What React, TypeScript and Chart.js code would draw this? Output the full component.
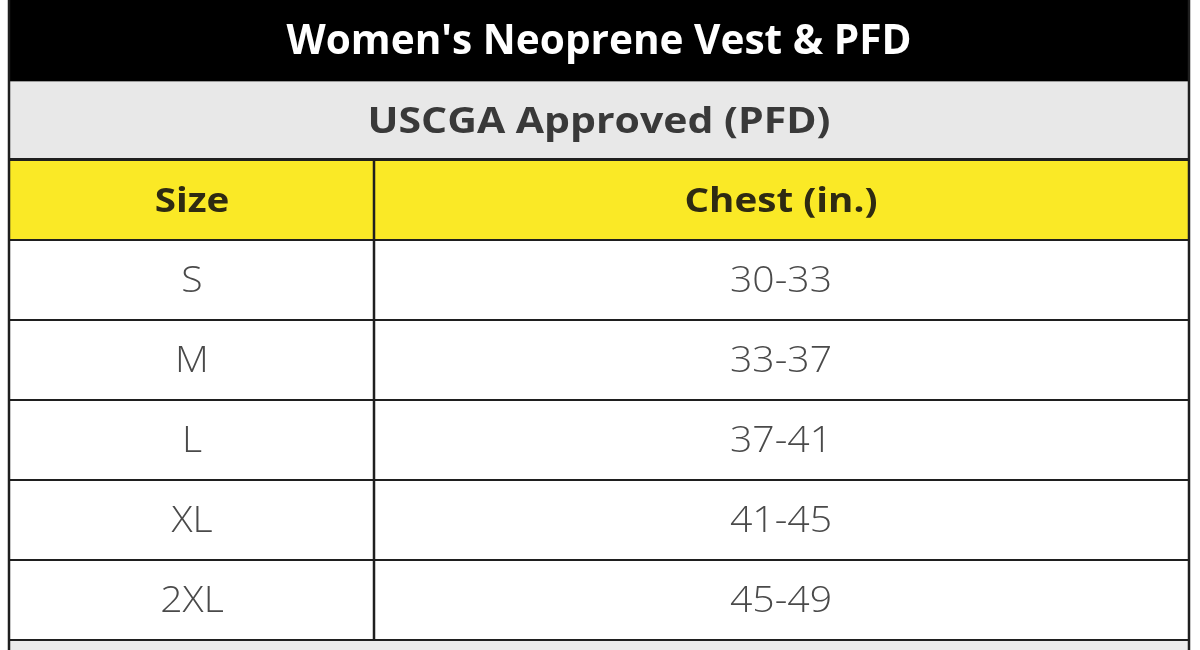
import React, { useEffect, useRef } from "react";
import { Chart, registerables } from "chart.js";

Chart.register(...registerables);

// ---- data ----
const title = "Women's Neoprene Vest & PFD";
const subtitle = "USCGA Approved (PFD)";
const columns = ["Size", "Chest (in.)"];
const sizes = ["S", "M", "L", "XL", "2XL"];
const chestRanges = ["30-33", "33-37", "37-41", "41-45", "45-49"];

// ---- layout (not data) ----
const W = 1200;
const H = 650;
const ROW_PX = 80;
const TABLE_LEFT = 9;
const TABLE_RIGHT = 1189;
const COL_DIVIDER = 374;
const COL_CENTERS = [192, 781];

const FONT = "'Open Sans', 'Noto Sans', sans-serif";

type Style = { font: string; color: string; sample: string; width: number; cap: number };
const STYLES: Record<string, Style> = {
  title: { font: `700 42px ${FONT}`, color: "#ffffff", sample: title, width: 625, cap: 30 },
  subtitle: { font: `700 36px ${FONT}`, color: "#393939", sample: subtitle, width: 463, cap: 26 },
  header: { font: `700 34px ${FONT}`, color: "#2e2a12", sample: "Chest (in.)", width: 193, cap: 24 },
  body: { font: `300 37px ${FONT}`, color: "#4a4a4a", sample: "30-33", width: 102, cap: 26 },
};

function drawText(ctx: CanvasRenderingContext2D, text: string, cx: number, cy: number, st: Style) {
  ctx.save();
  ctx.font = st.font;
  const s = st.width / ctx.measureText(st.sample).width;
  ctx.fillStyle = st.color;
  ctx.textAlign = "center";
  ctx.textBaseline = "alphabetic";
  ctx.translate(cx, cy + st.cap / 2);
  ctx.scale(s, 1);
  ctx.fillText(text, 0, 0);
  ctx.restore();
}

const tablePlugin = {
  id: "sizeTable",
  afterDraw(chart: any) {
    const { ctx, scales } = chart;
    const X = (v: number) => scales.x.getPixelForValue(v);
    const Y = (v: number) => scales.y.getPixelForValue(v);
    const L = X(TABLE_LEFT);
    const R = X(TABLE_RIGHT);
    const D = X(COL_DIVIDER);
    const lastRow = 3 + sizes.length;

    ctx.save();
    ctx.fillStyle = "#ffffff";
    ctx.fillRect(0, 0, W, H);

    // title bar
    ctx.fillStyle = "#000000";
    ctx.fillRect(L - 1, Y(0), R - L + 1, Y(1) + 1 - Y(0));
    // subtitle row
    ctx.fillStyle = "#e8e8e8";
    ctx.fillRect(L, Y(1) + 1, R - L, Y(2) - Y(1) - 1);
    ctx.fillStyle = "#9a9a9a";
    ctx.fillRect(L, Y(1) + 1, R - L, 1);
    // header row
    ctx.fillStyle = "#fae926";
    ctx.fillRect(L, Y(2), R - L, Y(3) - Y(2));
    // footer strip
    ctx.fillStyle = "#ebebeb";
    ctx.fillRect(L, Y(lastRow) + 1, R - L, H - Y(lastRow));

    // lines
    ctx.strokeStyle = "#1f1f1f";
    ctx.lineWidth = 3;
    ctx.beginPath();
    ctx.moveTo(L, Y(2) - 0.5);
    ctx.lineTo(R, Y(2) - 0.5);
    ctx.stroke();
    ctx.lineWidth = 2;
    for (let i = 3; i <= lastRow; i++) {
      ctx.beginPath();
      ctx.moveTo(L, Y(i));
      ctx.lineTo(R, Y(i));
      ctx.stroke();
    }
    ctx.lineWidth = 2.5;
    ctx.beginPath();
    ctx.moveTo(L, Y(0));
    ctx.lineTo(L, H);
    ctx.moveTo(R, Y(0));
    ctx.lineTo(R, H);
    ctx.moveTo(D, Y(2));
    ctx.lineTo(D, Y(lastRow));
    ctx.stroke();
    ctx.restore();

    const mid = (i: number) => (Y(i) + Y(i + 1)) / 2;
    const cxAll = (X(TABLE_LEFT) + X(TABLE_RIGHT)) / 2;
    drawText(ctx, title, cxAll, mid(0) - 1, STYLES.title);
    drawText(ctx, subtitle, cxAll, mid(1) + 0, STYLES.subtitle);
    columns.forEach((c, j) => drawText(ctx, c, X(COL_CENTERS[j]), mid(2), STYLES.header));
    sizes.forEach((s, i) => {
      drawText(ctx, s, X(COL_CENTERS[0]), mid(3 + i) - 1, STYLES.body);
      drawText(ctx, chestRanges[i], X(COL_CENTERS[1]), mid(3 + i) - 1, STYLES.body);
    });
  },
};

export default function App() {
  const ref = useRef<HTMLCanvasElement | null>(null);
  useEffect(() => {
    if (!ref.current) return;
    const chart = new Chart(ref.current, {
      type: "scatter",
      data: { datasets: [] },
      options: {
        animation: false,
        responsive: false,
        layout: { padding: 0 },
        plugins: { legend: { display: false }, tooltip: { enabled: false }, title: { display: false } },
        scales: {
          x: { type: "linear", min: 0, max: W, display: false },
          y: { type: "linear", min: 0, max: H / ROW_PX, reverse: true, display: false },
        },
      },
      plugins: [tablePlugin],
    } as any);
    return () => chart.destroy();
  }, []);
  return (
    <div style={{ position: "fixed", left: 0, top: 0, width: W, height: H, background: "#fff" }}>
      <canvas ref={ref} width={W} height={H} style={{ display: "block", width: W, height: H }} />
    </div>
  );
}
